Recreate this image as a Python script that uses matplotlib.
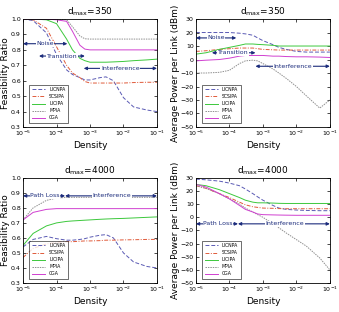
import matplotlib.pyplot as plt
import numpy as np

density = [1e-5, 2e-5, 5e-5, 1e-4, 2e-4, 3e-4, 5e-4, 7e-4, 1e-3, 2e-3, 3e-3, 5e-3, 1e-2, 2e-2, 5e-2, 1e-1]
names = ['LICNPA', 'SCSIPA', 'LICIPA', 'MPIA', 'CGA']

# feasibility ratio, d_max = 350
fr_350_licnpa = [1.0, 0.99, 0.91, 0.77, 0.67, 0.64, 0.62, 0.605, 0.605, 0.62, 0.625, 0.60, 0.49, 0.43, 0.41, 0.40]
fr_350_scsipa = [1.0, 0.995, 0.94, 0.82, 0.70, 0.65, 0.62, 0.595, 0.585, 0.585, 0.585, 0.585, 0.585, 0.588, 0.59, 0.59]
fr_350_licipa = [1.0, 1.0, 0.995, 0.97, 0.87, 0.80, 0.745, 0.73, 0.72, 0.72, 0.72, 0.722, 0.725, 0.73, 0.735, 0.74]
fr_350_mpia = [1.0, 1.0, 1.0, 1.0, 0.995, 0.95, 0.89, 0.872, 0.87, 0.87, 0.87, 0.87, 0.87, 0.87, 0.87, 0.87]
fr_350_cga = [1.0, 1.0, 1.0, 0.995, 0.985, 0.92, 0.83, 0.805, 0.80, 0.80, 0.80, 0.80, 0.80, 0.80, 0.80, 0.80]

# average power per link, d_max = 350
pw_350_licnpa = [20, 20, 20, 20, 19.5, 19, 18, 16, 14, 11, 9, 7.5, 6, 5.5, 5.5, 5.5]
pw_350_scsipa = [6, 6.5, 7.5, 8, 8.5, 8.5, 8.5, 8, 7.5, 7.2, 7, 7, 7, 7, 7, 7]
pw_350_licipa = [4, 5, 7.5, 9, 10.5, 11.5, 11.5, 11.2, 11, 10.5, 10, 10, 10, 10, 10, 10]
pw_350_mpia = [-10, -10, -9.5, -8, -3, -1, -0.5, -1, -3, -7, -10, -14, -20, -27, -36, -30]
pw_350_cga = [-1, -0.5, 0, 1, 2.5, 3, 3, 3, 3, 2.5, 2.5, 2.2, 2, 2, 1.8, 1.5]

# feasibility ratio, d_max = 4000
fr_4000_licnpa = [0.54, 0.59, 0.61, 0.595, 0.585, 0.585, 0.59, 0.595, 0.605, 0.618, 0.622, 0.60, 0.50, 0.44, 0.41, 0.40]
fr_4000_scsipa = [0.47, 0.53, 0.56, 0.57, 0.575, 0.575, 0.578, 0.58, 0.58, 0.582, 0.585, 0.585, 0.587, 0.588, 0.59, 0.59]
fr_4000_licipa = [0.55, 0.63, 0.68, 0.70, 0.71, 0.713, 0.716, 0.718, 0.72, 0.724, 0.726, 0.728, 0.73, 0.733, 0.737, 0.74]
fr_4000_mpia = [0.72, 0.80, 0.85, 0.865, 0.87, 0.87, 0.87, 0.87, 0.87, 0.87, 0.87, 0.87, 0.87, 0.87, 0.87, 0.87]
fr_4000_cga = [0.72, 0.77, 0.79, 0.795, 0.795, 0.795, 0.795, 0.795, 0.795, 0.795, 0.795, 0.795, 0.795, 0.795, 0.795, 0.795]

# average power per link, d_max = 4000
pw_4000_licnpa = [29, 28.5, 27.5, 26, 24, 21.5, 18, 15.5, 13, 9, 7, 6, 5.5, 5.2, 5, 5]
pw_4000_scsipa = [24, 22, 18, 15, 11.5, 9.5, 8, 7.5, 7, 6.8, 6.6, 6.5, 6.5, 6.5, 6.5, 6.5]
pw_4000_licipa = [25, 24, 21, 18, 15, 13, 11.5, 11, 11, 10.8, 10.6, 10.5, 10.5, 10.5, 10.5, 10.5]
pw_4000_mpia = [24, 22, 18, 14, 10, 7, 4, 2, 0, -5, -8, -12, -17, -22, -31, -40]
pw_4000_cga = [25, 23, 18, 14, 9, 6, 4, 2.5, 2, 1.8, 1.7, 1.6, 1.5, 1.5, 1.5, 1.5]

styles = [dict(color='#5a5ab4', ls=(0, (4, 2))),
          dict(color='#e05a3a', ls=(0, (4, 1.5, 1, 1.5))),
          dict(color='#3cc83c', ls='-'),
          dict(color='#909090', ls=(0, (1.5, 1))),
          dict(color='#d040d0', ls='-')]

arrow_color = '#1c2c7c'
fs = 4.5


def arrow(ax, x0, x1, y, text, tx):
    ax.annotate('', xy=(x0, y), xytext=(x1, y),
                arrowprops=dict(arrowstyle='<|-|>', color=arrow_color, lw=0.8,
                                mutation_scale=4.5, shrinkA=0, shrinkB=0))
    ax.text(tx, y, text, fontsize=fs, color=arrow_color, ha='center', va='center',
            bbox=dict(facecolor='white', edgecolor='none', pad=0.3))


def panel(rect, series, ylim, yticks, ylabel, title):
    ax = fig.add_axes(rect)
    for vals, name, st in zip(series, names, styles):
        ax.plot(density, vals, lw=0.7, label=name, **st)
    ax.set_xscale('log')
    ax.set_xlim(1e-5, 1e-1)
    ax.set_ylim(*ylim)
    ax.set_yticks(yticks)
    ax.set_xticks([1e-5, 1e-4, 1e-3, 1e-2, 1e-1])
    ax.minorticks_off()
    ax.tick_params(labelsize=fs, length=2, width=0.5, direction='in', pad=1.5,
                   top=True, right=True)
    for s in ax.spines.values():
        s.set_linewidth(0.6)
    ax.set_xlabel('Density', fontsize=6.5, labelpad=2)
    ax.set_ylabel(ylabel, fontsize=6.5, labelpad=0.5)
    ax.set_title(title, fontsize=6.5, pad=3)
    ax.legend(loc='lower left', fontsize=3.3, handlelength=3, frameon=True,
              fancybox=False, edgecolor='black', borderpad=0.5, labelspacing=0.45,
              bbox_to_anchor=(0.03, 0.02)).get_frame().set_linewidth(0.5)
    return ax


fig = plt.figure(figsize=(3.39, 3.12), dpi=100)

fr_ticks = [0.3, 0.4, 0.5, 0.6, 0.7, 0.8, 0.9, 1]
pw_ticks = [-50, -40, -30, -20, -10, 0, 10, 20, 30]

ax1 = panel([0.068, 0.593, 0.395, 0.346],
            [fr_350_licnpa, fr_350_scsipa, fr_350_licipa, fr_350_mpia, fr_350_cga],
            (0.3, 1.0), fr_ticks, 'Feasibility Ratio', r'd$_{\mathrm{max}}$=350')
arrow(ax1, 1e-5, 2.1e-4, 0.84, 'Noise', 4.5e-5)
arrow(ax1, 3e-5, 7e-4, 0.76, 'Transition', 1.45e-4)
arrow(ax1, 6.5e-4, 1e-1, 0.68, 'Interference', 8e-3)

ax2 = panel([0.578, 0.593, 0.395, 0.346],
            [pw_350_licnpa, pw_350_scsipa, pw_350_licipa, pw_350_mpia, pw_350_cga],
            (-50, 30), pw_ticks, 'Average Power per Link (dBm)', r'd$_{\mathrm{max}}$=350')
arrow(ax2, 1e-5, 1.6e-4, 16, 'Noise', 4e-5)
arrow(ax2, 3e-5, 6e-4, 5, 'Transition', 1.3e-4)
arrow(ax2, 6e-4, 1e-1, -5, 'Interference', 8e-3)

ax3 = panel([0.068, 0.093, 0.395, 0.337],
            [fr_4000_licnpa, fr_4000_scsipa, fr_4000_licipa, fr_4000_mpia, fr_4000_cga],
            (0.3, 1.0), fr_ticks, 'Feasibility Ratio', r'd$_{\mathrm{max}}$=4000')
arrow(ax3, 1e-5, 1.8e-4, 0.88, 'Path Loss', 4.5e-5)
arrow(ax3, 1.8e-4, 1e-1, 0.88, 'Interference', 4.5e-3)

ax4 = panel([0.578, 0.093, 0.395, 0.337],
            [pw_4000_licnpa, pw_4000_scsipa, pw_4000_licipa, pw_4000_mpia, pw_4000_cga],
            (-50, 30), pw_ticks, 'Average Power per Link (dBm)', r'd$_{\mathrm{max}}$=4000')
arrow(ax4, 1e-5, 1.8e-4, -5, 'Path Loss', 4.5e-5)
arrow(ax4, 1.8e-4, 1e-1, -5, 'Interference', 4.5e-3)

fig.savefig('out.png', dpi=100)
